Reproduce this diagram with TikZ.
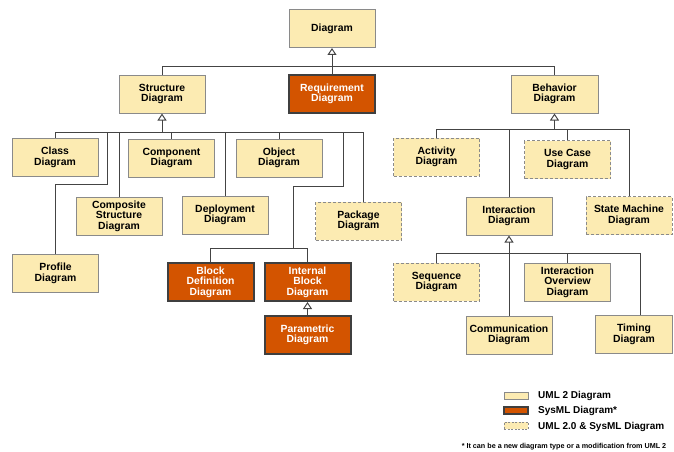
\documentclass[tikz,border=0pt]{standalone}
\usepackage{fontspec}
\setmainfont{Liberation Sans}
\usetikzlibrary{arrows.meta}
\definecolor{umlfill}{HTML}{FCEBB2}
\definecolor{umldraw}{HTML}{8A8A8A}
\definecolor{sysfill}{HTML}{D35400}
\definecolor{sysdraw}{HTML}{3F3F3F}
\definecolor{linec}{HTML}{444444}
\begin{document}
\begin{tikzpicture}[x=1pt,y=-1pt,
  box/.style={minimum width=86pt, minimum height=38pt, align=center, inner sep=0pt,
    font=\fontsize{10.4}{10.4}\selectfont\bfseries},
  uml/.style={box, fill=umlfill, draw=umldraw, line width=1pt},
  both/.style={uml, dash pattern=on 3pt off 2pt},
  sys/.style={box, fill=sysfill, draw=sysdraw, line width=2pt, text=white},
  conn/.style={draw=linec, line width=1pt},
  gen/.style={conn, -{Triangle[open, length=7pt, width=9pt, line width=1pt]}},
  swatch/.style={minimum width=24pt, minimum height=7pt, inner sep=0pt},
  legtext/.style={anchor=west, inner sep=0pt, font=\fontsize{10}{12}\selectfont\bfseries},
]
\useasboundingbox (0,0) rectangle (674,452);

% top
\node[uml] (diagram) at (332,28.5) {Diagram};
\node[sys] (req) at (332,94) {Requirement\\Diagram};
\node[uml] (struct) at (162,94) {Structure\\Diagram};
\node[uml, minimum width=87pt] (behav) at (554.5,94) {Behavior\\Diagram};

% structure children
\node[uml] (class) at (55,157.5) {Class\\Diagram};
\node[uml] (comp) at (171.5,158) {Component\\Diagram};
\node[uml] (obj) at (279,158) {Object\\Diagram};
\node[uml] (comps) at (119,216) {Composite\\Structure\\Diagram};
\node[uml] (depl) at (225,215) {Deployment\\Diagram};
\node[both] (pkg) at (358.5,221) {Package\\Diagram};
\node[uml] (profile) at (55.5,273.5) {Profile\\Diagram};
\node[sys] (bdd) at (210.5,282) {Block\\Definition\\Diagram};
\node[sys] (ibd) at (307.5,282) {Internal\\Block\\Diagram};
\node[sys] (param) at (307.5,335) {Parametric\\Diagram};

% behavior children
\node[both] (act) at (436.5,157) {Activity\\Diagram};
\node[both] (uc) at (567.5,159.5) {Use Case\\Diagram};
\node[uml] (inter) at (509,216) {Interaction\\Diagram};
\node[both] (sm) at (629,215.5) {State Machine\\Diagram};
\node[both] (seq) at (436.5,282) {Sequence\\Diagram};
\node[uml] (io) at (567.5,282) {Interaction\\Overview\\Diagram};
\node[uml] (comm) at (509,335) {Communication\\Diagram};
\node[uml, minimum width=77pt] (timing) at (634,334.5) {Timing\\Diagram};

% coordinates
\coordinate (sbus) at (162,132);
\coordinate (pk) at (107,184);
\coordinate (sk1) at (293,186);
\coordinate (sk2) at (343,132);
\coordinate (sysjoin) at (293,248);
\coordinate (pkgc) at (363,132);
\coordinate (bbus) at (554.5,129);
\coordinate (ibus) at (509,253);
\coordinate (tc) at (640,253);

% top connectors
\draw[conn] (struct.north) -- ++(0,-8) -| (behav.north);
\draw[gen] (req.north) -- (diagram.south);

% structure connectors
\draw[conn] (class.north) |- (sbus);
\draw[conn] (comp.north) |- (sbus);
\draw[conn] (obj.north) |- (sbus);
\draw[conn] (comps.north) |- (sbus);
\draw[conn] (depl.north) |- (sbus);
\draw[conn] (pkgc |- pkg.north) -- (pkgc) -- (sbus);
\draw[conn] (profile.north) |- (pk) -- (pk |- sbus);
\draw[conn] (bdd.north) |- (sysjoin);
\draw[conn] (ibd.north) |- (sysjoin);
\draw[conn] (sysjoin) -- (sk1) -| (sk2);
\draw[gen] (sbus) -- (struct.south);
\draw[gen] (param.north) -- (ibd.south);

% behavior connectors
\draw[conn] (act.north) |- (bbus);
\draw[conn] (uc.north) |- (bbus);
\draw[conn] (inter.north) |- (bbus);
\draw[conn] (sm.north) |- (bbus);
\draw[gen] (bbus) -- (behav.south);
\draw[conn] (seq.north) |- (ibus);
\draw[conn] (io.north) |- (ibus);
\draw[conn] (tc |- timing.north) -- (tc) -- (ibus);
\draw[conn] (comm.north) -- (ibus);
\draw[gen] (ibus) -- (inter.south);

% legend
\node[swatch, fill=umlfill, draw=umldraw, line width=1pt] (l1) at (516,395.5) {};
\node[swatch, fill=sysfill, draw=sysdraw, line width=1.6pt] (l2) at (516,410.5) {};
\node[swatch, fill=umlfill, draw=umldraw, line width=1pt, dash pattern=on 2pt off 1.5pt] (l3) at (516,425.5) {};
\node[legtext] (t1) at (538,396) {UML 2 Diagram};
\node[legtext] (t2) at (538,411) {SysML Diagram*};
\node[legtext] (t3) at (538,426.5) {UML 2.0 \& SysML Diagram};
\node[inner sep=0pt, font=\fontsize{7.2}{8}\selectfont\bfseries] (foot) at (564,447)
  {* It can be a new diagram type or a modification from UML 2};
\end{tikzpicture}
\end{document}
